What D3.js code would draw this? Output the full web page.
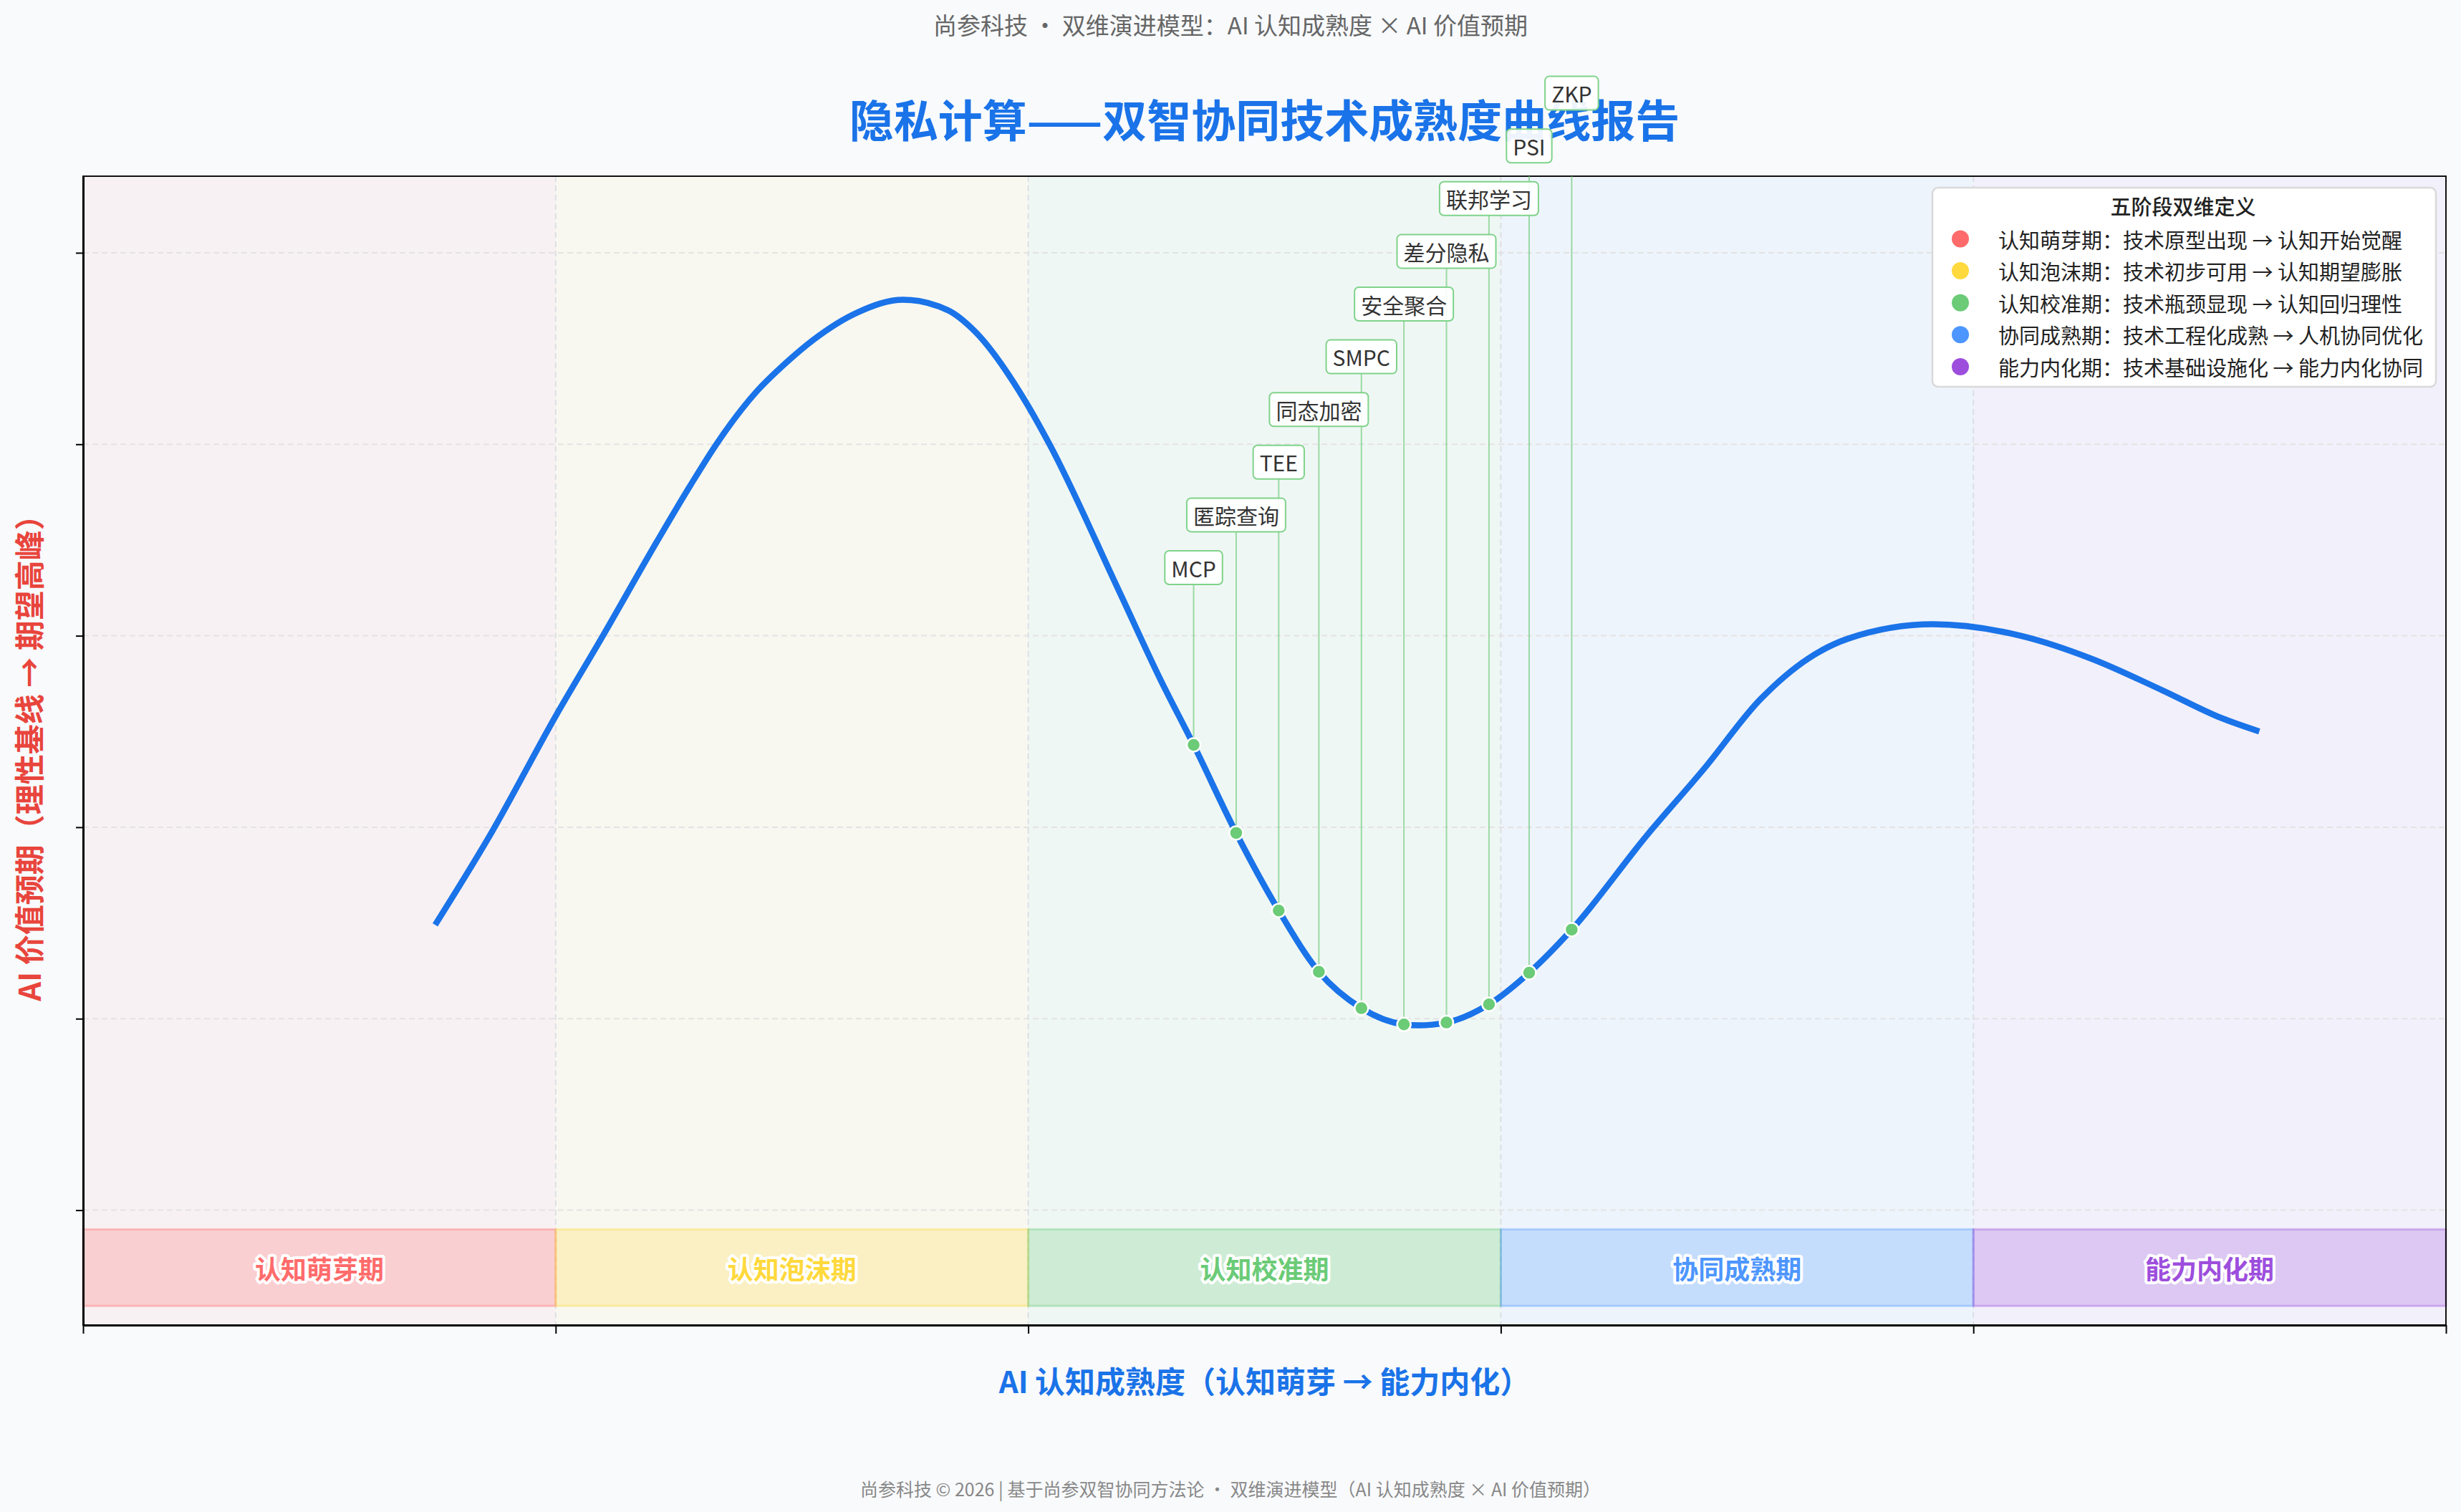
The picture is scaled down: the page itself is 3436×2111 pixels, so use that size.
<!DOCTYPE html>
<html><head><meta charset="utf-8">
<script src="https://cdn.jsdelivr.net/npm/d3@7/dist/d3.min.js"></script>
<style>
body{margin:0;background:#f8fafc;}
svg{display:block;}
text{font-family:"Noto Sans CJK SC","Noto Sans",sans-serif;}
</style>
</head><body>
<svg id="chart" width="3436" height="2111"></svg>
<script>
// ---------- data ----------
const phases = ["认知萌芽期","认知泡沫期","认知校准期","协同成熟期","能力内化期"];
const phaseColors = ["#ff6b6b","#ffd93d","#6bcb77","#4d96ff","#9d4edd"];
const phaseDefs = [
  "认知萌芽期：技术原型出现 → 认知开始觉醒",
  "认知泡沫期：技术初步可用 → 认知期望膨胀",
  "认知校准期：技术瓶颈显现 → 认知回归理性",
  "协同成熟期：技术工程化成熟 → 人机协同优化",
  "能力内化期：技术基础设施化 → 能力内化协同"
];
const phaseBounds = [0,20,40,60,80,100];
const bandRange = [-10,-2];

const curveX = [14.9,17.3,20.0,22.0,24.3,25.7,26.8,28.5,29.7,30.9,32.8,34.7,36.6,37.7,39.9,40.9,43.8,45.6,
                56.5,66.2,68.6,71.0,73.0,74.7,78.3,82.0,85.0,88.0,90.5,92.1];
const curveY = [29.8,39.5,51.6,60.0,69.9,75.7,80.0,85.5,88.4,90.9,93.8,95.1,94.0,91.9,84.4,80.0,64.9,55.4,
                19.3,39.2,46.1,53.4,57.6,59.7,61.2,60.0,57.6,54.3,51.4,50.0];

const techNames = ["MCP","匿踪查询","TEE","同态加密","SMPC","安全聚合","差分隐私","联邦学习","PSI","ZKP"];
const techX = [47.0,48.8,50.6,52.3,54.1,55.9,57.7,59.5,61.2,63.0];
const techY = [48.6,39.4,31.3,24.9,21.1,19.4,19.6,21.5,24.8,29.3];

const xTicks = [0,20,40,60,80,100];
const yTicks = [0,20,40,60,80,100];

const subtitle = "尚参科技 · 双维演进模型：AI 认知成熟度 × AI 价值预期";
const title = "隐私计算——双智协同技术成熟度曲线报告";
const xLabel = "AI 认知成熟度（认知萌芽 → 能力内化）";
const yLabel = "AI 价值预期（理性基线 → 期望高峰）";
const legendTitle = "五阶段双维定义";
const footer = "尚参科技 © 2026 | 基于尚参双智协同方法论 · 双维演进模型（AI 认知成熟度 × AI 价值预期）";

// ---------- layout ----------
const W = 3436, H = 2111;
const L = 116, R = 3415, T = 246, B = 1850;
const svg = d3.select("#chart");
const x = d3.scaleLinear().domain([0,100]).range([L,R]);
const y = d3.scaleLinear().domain([-12,108]).range([B,T]);

svg.append("rect").attr("width",W).attr("height",H).attr("fill","#f8fafc");

// phase background tints
svg.append("g").selectAll("rect").data(phases).join("rect")
  .attr("x",(d,i)=>x(phaseBounds[i])).attr("width",(d,i)=>x(phaseBounds[i+1])-x(phaseBounds[i]))
  .attr("y",T).attr("height",B-T)
  .attr("fill",(d,i)=>phaseColors[i]).attr("fill-opacity",0.06);

// horizontal grid
svg.append("g").selectAll("line").data(yTicks).join("line")
  .attr("x1",L).attr("x2",R).attr("y1",d=>y(d)).attr("y2",d=>y(d))
  .attr("stroke","#e3e3e3").attr("stroke-width",2).attr("stroke-dasharray","8,5");

// phase separators
svg.append("g").selectAll("line").data(phaseBounds.slice(1,5)).join("line")
  .attr("x1",d=>x(d)).attr("x2",d=>x(d)).attr("y1",T).attr("y2",B)
  .attr("stroke","#dcdfe4").attr("stroke-width",2).attr("stroke-dasharray","8,5");

// phase bands
const bands = svg.append("g");
bands.selectAll("rect").data(phases).join("rect")
  .attr("x",(d,i)=>x(phaseBounds[i])).attr("width",(d,i)=>x(phaseBounds[i+1])-x(phaseBounds[i]))
  .attr("y",y(bandRange[1])).attr("height",y(bandRange[0])-y(bandRange[1]))
  .attr("fill",(d,i)=>phaseColors[i]).attr("fill-opacity",0.25)
  .attr("stroke",(d,i)=>phaseColors[i]).attr("stroke-opacity",0.35).attr("stroke-width",3);
bands.selectAll("text").data(phases).join("text")
  .attr("x",(d,i)=>x((phaseBounds[i]+phaseBounds[i+1])/2))
  .attr("y",y((bandRange[0]+bandRange[1])/2))
  .attr("text-anchor","middle").attr("dominant-baseline","central")
  .attr("font-size",36).attr("font-weight",700)
  .attr("fill",(d,i)=>phaseColors[i])
  .attr("stroke","#fff").attr("stroke-width",8).attr("stroke-linejoin","round")
  .attr("paint-order","stroke")
  .text(d=>d);

// clip for leader lines
svg.append("clipPath").attr("id","plotclip").append("rect")
  .attr("x",L).attr("y",T).attr("width",R-L).attr("height",B-T);

// frame
svg.append("rect").attr("x",L).attr("y",T).attr("width",R-L).attr("height",B-T)
  .attr("fill","none").attr("stroke","#111").attr("stroke-width",2);

// axes
const yAxis = svg.append("g").attr("transform",`translate(${L},0)`)
  .call(d3.axisLeft(y).tickValues(yTicks).tickFormat("").tickSize(10).tickSizeOuter(0));
const xAxis = svg.append("g").attr("transform",`translate(0,${B})`)
  .call(d3.axisBottom(x).tickValues(xTicks).tickFormat("").tickSize(12).tickSizeOuter(0));
[yAxis,xAxis].forEach(a=>{
  a.select(".domain").attr("stroke","#000").attr("stroke-width",3);
  a.selectAll(".tick line").attr("stroke","#000").attr("stroke-width",2);
});

// title / subtitle
svg.append("text").attr("x",W/2).attr("y",34).attr("text-anchor","middle").attr("dominant-baseline","central")
  .attr("font-size",33).attr("fill","#666").text(subtitle);
svg.append("text").attr("x",(L+R)/2).attr("y",165).attr("text-anchor","middle").attr("dominant-baseline","central")
  .attr("font-size",62).attr("font-weight",700).attr("fill","#1a73e8").text(title);

// curve
const pts = curveX.map((v,i)=>[v,curveY[i]]).concat(techX.map((v,i)=>[v,techY[i]]))
  .sort((a,b)=>a[0]-b[0]);
svg.append("path").datum(pts)
  .attr("d",d3.line().x(d=>x(d[0])).y(d=>y(d[1])).curve(d3.curveMonotoneX))
  .attr("fill","none").attr("stroke","#1a73e8").attr("stroke-width",8.5).attr("stroke-linecap","butt");

// tech labels
const labelBase = 792.5, labelStep = 73.6;
const techs = techNames.map((n,i)=>({name:n,x:techX[i],y:techY[i],ly:labelBase-i*labelStep}));
svg.append("g").attr("clip-path","url(#plotclip)").selectAll("line").data(techs).join("line")
  .attr("x1",d=>x(d.x)).attr("x2",d=>x(d.x)).attr("y1",d=>d.ly+23).attr("y2",d=>y(d.y))
  .attr("stroke","#6bcb77").attr("stroke-opacity",0.65).attr("stroke-width",2);
svg.append("g").selectAll("circle").data(techs).join("circle")
  .attr("cx",d=>x(d.x)).attr("cy",d=>y(d.y)).attr("r",9.5)
  .attr("fill","#6bcb77").attr("stroke","#fff").attr("stroke-width",2.5);
const lg = svg.append("g").selectAll("g").data(techs).join("g")
  .attr("transform",d=>`translate(${x(d.x)},${d.ly})`);
lg.append("text").attr("text-anchor","middle").attr("dominant-baseline","central")
  .attr("font-size",30).attr("fill","#333").text(d=>d.name);
lg.each(function(){
  const g = d3.select(this);
  const bb = g.select("text").node().getBBox();
  g.insert("rect","text").attr("x",-bb.width/2-9).attr("y",-23.5).attr("width",bb.width+18).attr("height",47)
    .attr("rx",6).attr("fill","#fff").attr("fill-opacity",0.92)
    .attr("stroke","#7fd38a").attr("stroke-width",2);
});

// axis labels
svg.append("text").attr("x",(L+R)/2).attr("y",1926).attr("text-anchor","middle").attr("dominant-baseline","central")
  .attr("font-size",42).attr("font-weight",700).attr("fill","#1a73e8").text(xLabel);
svg.append("text").attr("transform",`translate(38,${(T+B)/2}) rotate(-90)`).attr("text-anchor","middle")
  .attr("dominant-baseline","central").attr("font-size",42).attr("font-weight",700).attr("fill","#e8453c").text(yLabel);

// legend
const leg = svg.append("g").attr("transform","translate(2698,262)");
leg.append("rect").attr("width",703).attr("height",278).attr("rx",8)
  .attr("fill","#fff").attr("stroke","#d9d9d9").attr("stroke-width",2.5);
leg.append("text").attr("x",350).attr("y",25).attr("text-anchor","middle").attr("dominant-baseline","central")
  .attr("font-size",29).attr("font-weight",500).attr("fill","#222").text(legendTitle);
const li = leg.selectAll("g.li").data(phaseDefs).join("g").attr("class","li")
  .attr("transform",(d,i)=>`translate(0,${71.5+i*44.6})`);
li.append("circle").attr("cx",39).attr("cy",0).attr("r",12).attr("fill",(d,i)=>phaseColors[i]);
li.append("text").attr("x",92).attr("y",0).attr("dominant-baseline","central")
  .attr("font-size",29).attr("fill","#222").text(d=>d);

// footer
svg.append("text").attr("x",W/2).attr("y",2078).attr("text-anchor","middle").attr("dominant-baseline","central")
  .attr("font-size",25).attr("fill","#888").text(footer);
</script>
</body></html>
